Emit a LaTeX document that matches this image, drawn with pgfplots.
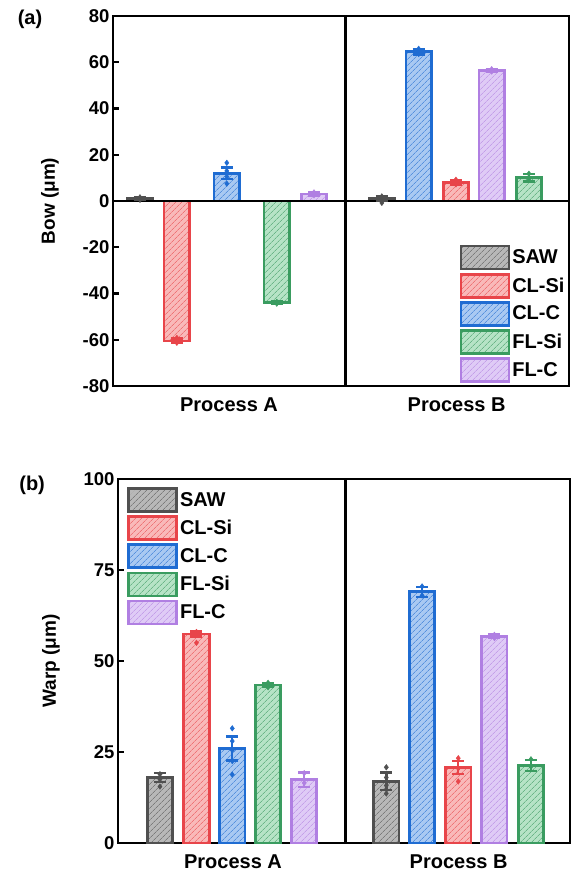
\documentclass[border=0pt]{standalone}
\usepackage{fontspec}
\setmainfont{Liberation Sans}
\usepackage{pgfplots}
\pgfplotsset{compat=1.18}
\usetikzlibrary{patterns.meta}

\definecolor{cSAW}{HTML}{505050}
\definecolor{fSAW}{HTML}{B8B8B8}
\definecolor{cCLSi}{HTML}{E8454A}
\definecolor{fCLSi}{HTML}{F9B9B9}
\definecolor{cCLC}{HTML}{1F6CD2}
\definecolor{fCLC}{HTML}{A9C9F2}
\definecolor{cFLSi}{HTML}{3A9C60}
\definecolor{fFLSi}{HTML}{B6E3C6}
\definecolor{cFLC}{HTML}{B07FE2}
\definecolor{fFLC}{HTML}{DFCBF6}

\pgfplotsset{
  hbar/.style 2 args={ybar, bar shift=0pt, bar width=0.7, draw=#1, line width=2.8pt,
    fill=#2, postaction={pattern={Lines[angle=45,distance=4pt,line width=0.7pt]}, pattern color=#1!75}},
  ebar/.style={forget plot, draw=none, mark=none,
    error bars/.cd, y dir=both, y explicit,
    error bar style={draw=#1, line width=2.4pt},
    error mark options={draw=#1, rotate=90, mark size=6pt, line width=2.4pt}},
  pts/.style={forget plot, only marks, mark=diamond*, mark size=2.8pt, color=#1},
  panel/.style={
    scale only axis, xmin=0, xmax=12.5,
    axis line style={line width=2.5pt},
    tick style={line width=2.2pt, black},
    major tick length=6pt, tick align=inside,
    ytick pos=left,
    xtick={3.18,9.42}, xticklabels={Process A, Process B},
    major x tick style={draw=none},
    /pgf/number format/assume math mode=true,
    tick label style={font=\bfseries\fontsize{18.5}{18.5}\selectfont},
    xticklabel style={font=\bfseries\fontsize{20}{20}\selectfont, yshift=-8pt},
    label style={font=\bfseries\fontsize{19}{19}\selectfont},
    ylabel style={yshift=17pt},
    legend cell align=left,
    legend image code/.code={\draw[#1] (0pt,-11.5pt) rectangle (48pt,11.5pt);},
    clip=false,
  },
}

\begin{document}
\begin{tikzpicture}
\useasboundingbox (0,0) rectangle (574pt,-877pt);

% ---------------- (a) Bow ----------------
\begin{axis}[panel,
  at={(113pt,-386pt)}, anchor=south west, width=456pt, height=370pt,
  ymin=-80, ymax=80, ytick={-80,-60,...,80},
  ylabel={Bow (μm)},
  legend style={at={(0.995,0.008)}, anchor=south east, draw=none, fill=none,
    font=\bfseries\fontsize{20}{20}\selectfont, row sep=2.3pt, inner sep=0pt,
    /tikz/every even column/.append style={column sep=4pt}},
]
\addplot[hbar={cSAW}{fSAW}]   coordinates {(0.74,1.0) (7.37,1.0)};
\addlegendentry{SAW}
\addplot[hbar={cCLSi}{fCLSi}] coordinates {(1.75,-60.5) (9.40,8.0)};
\addlegendentry{CL-Si}
\addplot[hbar={cCLC}{fCLC}]   coordinates {(3.12,12.0) (8.38,64.5)};
\addlegendentry{CL-C}
\addplot[hbar={cFLSi}{fFLSi}] coordinates {(4.49,-44.0) (11.40,10.0)};
\addlegendentry{FL-Si}
\addplot[hbar={cFLC}{fFLC}]   coordinates {(5.51,3.0) (10.38,56.5)};
\addlegendentry{FL-C}

\addplot[forget plot, line width=2.5pt, black] coordinates {(0,0) (12.5,0)};
\addplot[forget plot, line width=2.5pt, black] coordinates {(6.38,-80) (6.38,80)};

\addplot[ebar=cSAW]  coordinates {(0.74,1.0) +- (0,0.6) (7.37,1.0) +- (0,0.9)};
\addplot[ebar=cCLSi] coordinates {(1.75,-60.5) +- (0,1.0) (9.40,8.0) +- (0,1.2)};
\addplot[ebar=cCLC]  coordinates {(3.12,12.0) +- (0,2.5) (8.38,64.5) +- (0,1.2)};
\addplot[ebar=cFLSi] coordinates {(4.49,-44.0) +- (0,0.5) (11.40,10.0) +- (0,1.6)};
\addplot[ebar=cFLC]  coordinates {(5.51,3.0) +- (0,0.6) (10.38,56.5) +- (0,0.6)};

\addplot[pts=cSAW]  coordinates {(0.74,1.6) (0.74,0.5) (7.37,2.0) (7.37,0.2) (7.37,-0.8)};
\addplot[pts=cCLSi] coordinates {(1.75,-59.2) (1.75,-61.3) (9.40,9.2) (9.40,7.2)};
\addplot[pts=cCLC]  coordinates {(3.12,16.5) (3.12,13.0) (3.12,10.5) (3.12,7.5) (8.38,65.8) (8.38,63.6)};
\addplot[pts=cFLSi] coordinates {(4.49,-43.6) (4.49,-44.4) (11.40,11.8) (11.40,9.0)};
\addplot[pts=cFLC]  coordinates {(5.51,3.7) (5.51,2.5) (10.38,57.0) (10.38,56.0)};

\node[font=\bfseries\fontsize{20}{20}\selectfont] at (rel axis cs:-0.182,0.99) {(a)};
\end{axis}

% ---------------- (b) Warp ----------------
\begin{axis}[panel,
  at={(118pt,-843pt)}, anchor=south west, width=452pt, height=364pt,
  ymin=0, ymax=100, ytick={0,25,...,100},
  ylabel={Warp (μm)},
  legend style={at={(0.02,0.978)}, anchor=north west, draw=none, fill=none,
    font=\bfseries\fontsize{20}{20}\selectfont, row sep=2.3pt, inner sep=0pt,
    /tikz/every even column/.append style={column sep=4pt}},
]
\addplot[hbar={cSAW}{fSAW}]   coordinates {(1.16,18.0) (7.42,17.0)};
\addlegendentry{SAW}
\addplot[hbar={cCLSi}{fCLSi}] coordinates {(2.17,57.4) (9.41,20.8)};
\addlegendentry{CL-Si}
\addplot[hbar={cCLC}{fCLC}]   coordinates {(3.16,26.0) (8.41,69.0)};
\addlegendentry{CL-C}
\addplot[hbar={cFLSi}{fFLSi}] coordinates {(4.15,43.4) (11.42,21.3)};
\addlegendentry{FL-Si}
\addplot[hbar={cFLC}{fFLC}]   coordinates {(5.15,17.4) (10.41,56.8)};
\addlegendentry{FL-C}

\addplot[forget plot, line width=2.5pt, black] coordinates {(6.29,0) (6.29,100)};

\addplot[ebar=cSAW]  coordinates {(1.16,18.0) +- (0,1.2) (7.42,17.0) +- (0,2.4)};
\addplot[ebar=cCLSi] coordinates {(2.17,57.4) +- (0,0.7) (9.41,20.8) +- (0,1.8)};
\addplot[ebar=cCLC]  coordinates {(3.16,26.0) +- (0,3.3) (8.41,69.0) +- (0,1.4)};
\addplot[ebar=cFLSi] coordinates {(4.15,43.4) +- (0,0.6) (11.42,21.3) +- (0,1.5)};
\addplot[ebar=cFLC]  coordinates {(5.15,17.4) +- (0,2.0) (10.41,56.8) +- (0,0.5)};

\addplot[pts=cSAW]  coordinates {(1.16,18.9) (1.16,17.5) (1.16,15.5) (7.42,20.8) (7.42,18.0) (7.42,15.8) (7.42,13.6)};
\addplot[pts=cCLSi] coordinates {(2.17,58.0) (2.17,55.0) (9.41,23.3) (9.41,20.5) (9.41,16.9)};
\addplot[pts=cCLC]  coordinates {(3.16,31.5) (3.16,28.0) (3.16,25.5) (3.16,22.5) (3.16,18.8) (8.41,70.5) (8.41,68.0)};
\addplot[pts=cFLSi] coordinates {(4.15,44.0) (4.15,42.8) (11.42,23.0) (11.42,21.0)};
\addplot[pts=cFLC]  coordinates {(5.15,19.2) (5.15,16.5) (10.41,57.2) (10.41,56.3)};

\node[font=\bfseries\fontsize{20}{20}\selectfont] at (rel axis cs:-0.19,0.984) {(b)};
\end{axis}
\end{tikzpicture}
\end{document}
